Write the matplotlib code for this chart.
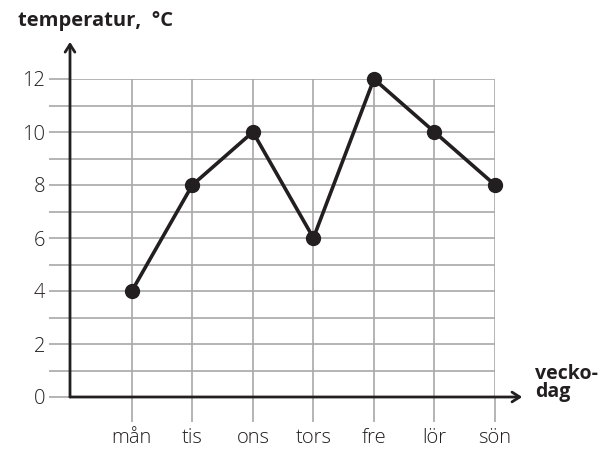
import matplotlib
matplotlib.use("Agg")
import matplotlib.pyplot as plt
from matplotlib.ticker import MultipleLocator

days = ["mån", "tis", "ons", "tors", "fre", "lör", "sön"]
temps = [4, 8, 10, 6, 12, 10, 8]
y_ticks = [0, 2, 4, 6, 8, 10, 12]

INK = "#231f20"
GRID = "#a8a8a8"
plt.rcParams["font.family"] = ["Open Sans", "DejaVu Sans"]

W, H = 609, 453
fig = plt.figure(figsize=(W / 100, H / 100), dpi=100)
# axes box spans the grid: y-axis line at x=70px, son at 495px, 0 at 397px, 12 at 79px
ax = fig.add_axes([70 / W, (H - 397) / H, (495 - 70) / W, (397 - 79) / H])
x0 = -62 / 60.7
ax.set_xlim(x0, len(days) - 1)
ax.set_ylim(0, 12)

xs = list(range(len(days)))
ax.plot(xs, temps, color=INK, lw=2.6, marker="o", ms=10, zorder=5, clip_on=False)

ax.set_xticks(xs)
ax.set_xticklabels(days, fontweight="light")
ax.set_yticks(y_ticks)
ax.set_yticklabels([str(v) for v in y_ticks], fontweight="light")
ax.yaxis.set_minor_locator(MultipleLocator(1))
ax.grid(True, which="both", color=GRID, lw=1.2)
ax.tick_params(axis="x", length=18, width=1.2, color=GRID, pad=4,
               labelsize=14.5, labelcolor=INK)
ax.tick_params(axis="y", which="both", length=15, width=1.2, color=GRID,
               pad=3, labelsize=14.5, labelcolor=INK)
for s in ax.spines.values():
    s.set_visible(False)
ax.set_axisbelow(True)

arrow = dict(arrowstyle="->,head_length=0.55,head_width=0.35", color=INK,
             lw=2, shrinkA=0, shrinkB=0)
ax.annotate("", xy=(6.45, 0), xytext=(x0, 0), arrowprops=arrow,
            annotation_clip=False)
ax.annotate("", xy=(x0, 13.4), xytext=(x0, 0), arrowprops=arrow,
            annotation_clip=False)

fig.text(18 / W, 1 - 21 / H, "temperatur,  °C", fontsize=14.5, fontweight="bold",
         color=INK, va="center", ha="left")
fig.text(535 / W, 1 - 383 / H, "vecko-\ndag", fontsize=14, fontweight="bold",
         color=INK, va="center", ha="left", linespacing=0.9)

fig.savefig("out.png", dpi=100)
